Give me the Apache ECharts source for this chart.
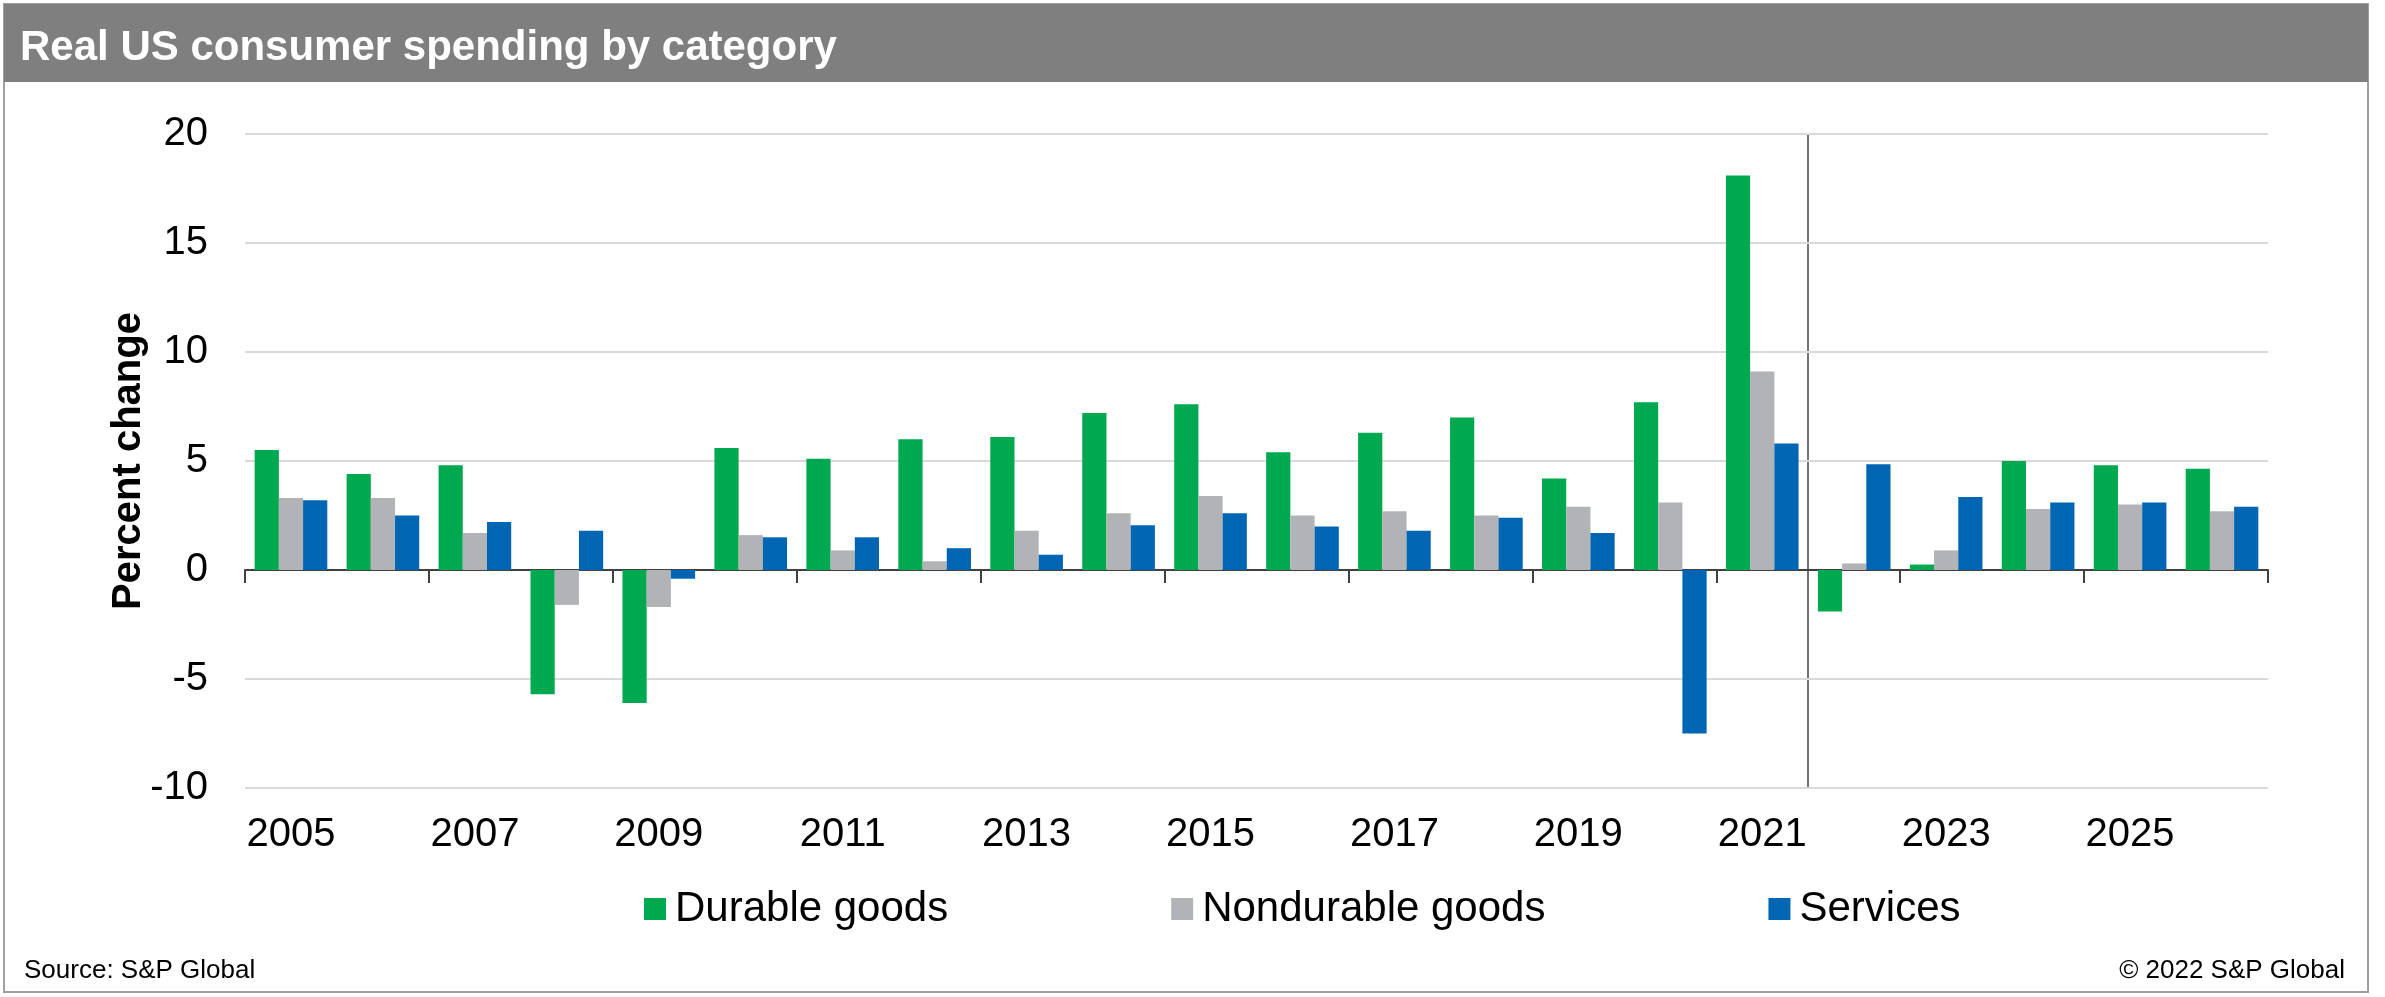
<!DOCTYPE html>
<html>
<head>
<meta charset="utf-8">
<title>Real US consumer spending by category</title>
<script src="https://cdn.jsdelivr.net/npm/echarts@6/dist/echarts.min.js"></script>
<style>
  html, body { margin: 0; padding: 0; background: #fff; }
  #chart { width: 2385px; height: 997px; }
</style>
</head>
<body>
<div id="chart"></div>
<script>
// years on the x axis
var years = ["2005", "2006", "2007", "2008", "2009", "2010", "2011", "2012", "2013", "2014", "2015",
  "2016", "2017", "2018", "2019", "2020", "2021", "2022", "2023", "2024", "2025", "2026"];

// percent change by category
var durable = [5.5, 4.4, 4.8, -5.7, -6.1, 5.6, 5.1, 6.0, 6.1, 7.2, 7.6,
  5.4, 6.3, 7.0, 4.2, 7.7, 18.1, -1.9, 0.25, 5.0, 4.8, 4.65];
var nondurable = [3.3, 3.3, 1.7, -1.6, -1.7, 1.6, 0.9, 0.4, 1.8, 2.6, 3.4,
  2.5, 2.7, 2.5, 2.9, 3.1, 9.1, 0.3, 0.9, 2.8, 3.0, 2.7];
var services = [3.2, 2.5, 2.2, 1.8, -0.4, 1.5, 1.5, 1.0, 0.7, 2.05, 2.6,
  2.0, 1.8, 2.4, 1.7, -7.5, 5.8, 4.85, 3.35, 3.1, 3.1, 2.9];

// last actual year, forecast starts after it
var lastActual = "2021";

var font = "Liberation Sans, Arial, sans-serif";
var chart = echarts.init(document.getElementById("chart"));

var option = {
  animation: false,
  textStyle: { fontFamily: font },
  grid: { left: 245, right: 117, top: 134, bottom: 209 },
  legend: {
    left: 639,
    top: 883,
    icon: "rect",
    itemWidth: 22,
    itemHeight: 22,
    itemGap: 223,
    textStyle: { fontSize: 42, color: "#000", fontFamily: font, padding: [0, 0, 0, 4] },
    data: ["Durable goods", "Nondurable goods", "Services"]
  },
  xAxis: [
    {
      type: "category",
      data: years,
      axisLine: { onZero: true, lineStyle: { color: "#404040", width: 2 } },
      axisTick: { show: true, interval: 1, length: 13, lineStyle: { color: "#404040", width: 2 } },
      axisLabel: { show: false },
      splitLine: { show: false }
    },
    {
      type: "category",
      data: years,
      position: "bottom",
      axisLine: { show: false, onZero: false },
      axisTick: { show: false },
      axisLabel: { interval: 1, fontSize: 40, color: "#000", margin: 27, fontFamily: font },
      splitLine: { show: false }
    }
  ],
  yAxis: {
    type: "value",
    min: -10,
    max: 20,
    interval: 5,
    name: "Percent change",
    nameLocation: "middle",
    nameGap: 96,
    nameMoveOverlap: false,
    nameTextStyle: { fontSize: 40, fontWeight: "bold", color: "#000", fontFamily: font },
    axisLine: { show: false },
    axisTick: { show: false },
    axisLabel: { fontSize: 40, color: "#000", margin: 37, fontFamily: font },
    splitLine: { lineStyle: { color: "#d9d9d9", width: 2 } }
  },
  series: [
    {
      name: "Durable goods",
      type: "bar",
      data: durable,
      barGap: "0%",
      barCategoryGap: "21%",
      itemStyle: { color: "#00a94f" }
    },
    {
      name: "Nondurable goods",
      type: "bar",
      data: nondurable,
      itemStyle: { color: "#b1b3b6" }
    },
    {
      name: "Services",
      type: "bar",
      data: services,
      itemStyle: { color: "#0066b3" }
    }
  ],
  graphic: [
    {
      id: "frame",
      type: "rect",
      shape: { x: 4, y: 4, width: 2364, height: 988 },
      style: { fill: null, stroke: "#a0a0a0", lineWidth: 2 }
    },
    {
      id: "titleBar",
      type: "rect",
      shape: { x: 4, y: 4, width: 2364, height: 78 },
      style: { fill: "#7f7f7f" }
    },
    {
      id: "titleText",
      type: "text",
      left: 20,
      top: 27,
      style: { text: "Real US consumer spending by category", fill: "#fff", font: "bold 42px " + font }
    },
    {
      id: "source",
      type: "text",
      left: 24,
      top: 958,
      style: { text: "Source: S&P Global", fill: "#000", font: "26px " + font }
    },
    {
      id: "copyright",
      type: "text",
      right: 40,
      top: 958,
      style: { text: "\u00a9 2022 S&P Global", fill: "#000", font: "26px " + font }
    }
  ]
};

chart.setOption(option);

// divider between actuals and forecast, placed through the axes
var xa = chart.convertToPixel({ xAxisIndex: 0 }, lastActual);
var xb = chart.convertToPixel({ xAxisIndex: 0 }, years[years.indexOf(lastActual) + 1]);
var yTop = chart.convertToPixel({ yAxisIndex: 0 }, 20);
var yBot = chart.convertToPixel({ yAxisIndex: 0 }, -10);
var xd = Math.round((xa + xb) / 2);
chart.setOption({
  graphic: [
    {
      id: "divider",
      type: "line",
      shape: { x1: xd, y1: yTop, x2: xd, y2: yBot },
      style: { stroke: "#737373", lineWidth: 2 }
    }
  ]
});
</script>
</body>
</html>
